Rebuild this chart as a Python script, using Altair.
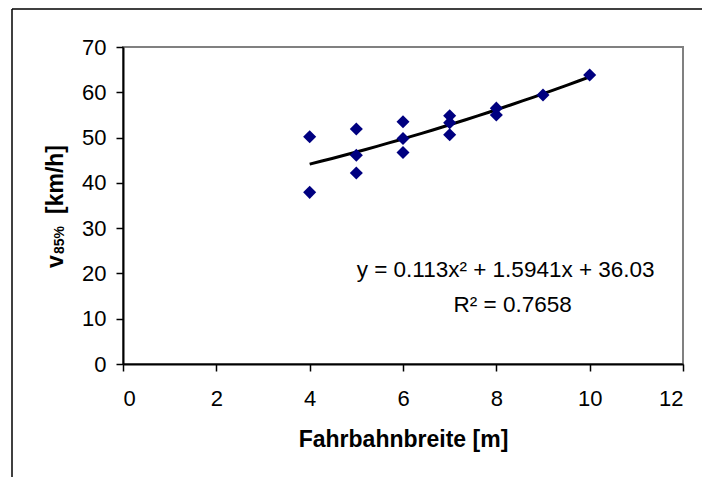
import altair as alt
import pandas as pd

# Data
width_m = [4, 4, 5, 5, 5, 6, 6, 6, 7, 7, 7, 8, 8, 9, 10]
v85 = [50.2, 37.9, 51.9, 46.1, 42.2, 53.5, 49.8, 46.7, 54.8, 53.3, 50.6, 56.5, 55.0, 59.4, 63.8]

x_ticks = [0, 2, 4, 6, 8, 10, 12]
y_ticks = [0, 10, 20, 30, 40, 50, 60, 70]

eq_line1 = "y = 0.113x\u00b2 + 1.5941x + 36.03"
eq_line2 = "R\u00b2 = 0.7658"

df = pd.DataFrame({"x": width_m, "y": v85})
one = pd.DataFrame({"k": [0]})

FONT = "Liberation Sans"
W, H = 560, 317

xenc = alt.X("x:Q", scale=alt.Scale(domain=[0, 12], nice=False),
             axis=alt.Axis(values=x_ticks, title="Fahrbahnbreite [m]", grid=False,
                           tickSize=7, tickColor="#000", tickWidth=1.5,
                           domainColor="#000", domainWidth=2,
                           labelFont=FONT, labelFontSize=22, labelColor="#000",
                           labelPadding=17, titleFont=FONT, titleFontSize=23,
                           titleFontWeight="bold", titleColor="#000", titlePadding=19))
yenc = alt.Y("y:Q", scale=alt.Scale(domain=[0, 70], nice=False),
             axis=alt.Axis(values=y_ticks, title=None, grid=False,
                           tickSize=7, tickColor="#000", tickWidth=1.5,
                           domainColor="#000", domainWidth=2,
                           labelFont=FONT, labelFontSize=22, labelColor="#000",
                           labelPadding=10))

points = alt.Chart(df).mark_point(shape="diamond", filled=True, size=170, color="#000080",
                                  opacity=1).encode(x=xenc, y=yenc)

trend = alt.Chart(df).transform_regression("x", "y", method="poly", order=2,
                                           extent=[4, 10]).mark_line(
    color="#000", strokeWidth=3).encode(x="x:Q", y="y:Q")

def txt(size, weight="normal", **kw):
    return alt.Chart(one).mark_text(font=FONT, fontSize=size, fontWeight=weight,
                                    color="#000", **kw)

eq1 = txt(22.5, align="center", baseline="middle").encode(
    x=alt.datum(8.2), y=alt.datum(20.8), text=alt.value(eq_line1))
eq2 = txt(22.5, align="center", baseline="middle").encode(
    x=alt.datum(8.35), y=alt.datum(13.0), text=alt.value(eq_line2))

# rotated y-axis title with subscript
yt_v = txt(23, "bold", angle=270, align="left", baseline="alphabetic").encode(
    x=alt.value(-60), y=alt.value(221), text=alt.value("v"))
yt_sub = txt(14, "bold", angle=270, align="left", baseline="alphabetic").encode(
    x=alt.value(-59), y=alt.value(207), text=alt.value("85%"))
yt_unit = txt(23, "bold", angle=270, align="left", baseline="alphabetic").encode(
    x=alt.value(-60), y=alt.value(167), text=alt.value("[km/h]"))

# outer chart frame (left and top edges)
frame_left = alt.Chart(one).mark_rule(color="#000", strokeWidth=1.5).encode(
    x=alt.value(-111), y=alt.value(-38), y2=alt.value(440))
frame_top = alt.Chart(one).mark_rule(color="#000", strokeWidth=1.5).encode(
    x=alt.value(-111), x2=alt.value(590), y=alt.value(-38))

chart = alt.layer(trend, points, eq1, eq2, yt_v, yt_sub, yt_unit,
                  frame_left, frame_top).properties(
    width=W, height=H,
    autosize=alt.AutoSizeParams(type="none"),
    padding={"left": 123, "top": 47, "right": 19, "bottom": 113},
    background="white",
).configure_view(stroke="#808080", strokeWidth=2)

chart.save("out.html", embed_options={"renderer": "svg", "actions": False})
